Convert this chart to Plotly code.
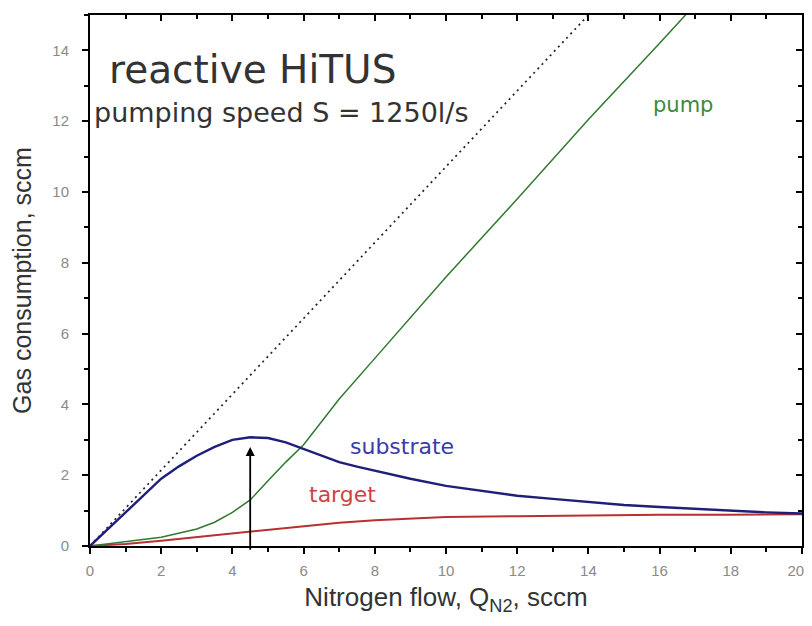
import plotly.graph_objects as go

# ---- data ----
x_sub = [0, 0.5, 1, 1.5, 2, 2.5, 3, 3.5, 4, 4.5, 5, 5.5, 6, 6.5, 7, 7.5, 8, 9, 10, 11, 12, 13, 14, 15, 16, 17, 18, 19, 20]
substrate = [0, 0.48, 0.95, 1.42, 1.9, 2.25, 2.55, 2.8, 3.0, 3.07, 3.05, 2.93, 2.74, 2.55, 2.37, 2.24, 2.12, 1.9, 1.7, 1.55, 1.42, 1.33, 1.24, 1.16, 1.1, 1.05, 0.98, 0.95, 0.92]

x_pump = [0, 1, 2, 3, 3.5, 4, 4.5, 5, 5.5, 6, 6.5, 7, 8, 9, 10, 12, 14, 16, 17]
pump = [0, 0.12, 0.25, 0.48, 0.67, 0.95, 1.3, 1.84, 2.37, 2.86, 3.5, 4.15, 5.3, 6.45, 7.6, 9.8, 12.05, 14.2, 15.3]

x_tgt = [0, 1, 2, 3, 4, 5, 6, 7, 8, 9, 10, 12, 14, 16, 18, 20]
target = [0, 0.06, 0.15, 0.25, 0.35, 0.47, 0.57, 0.66, 0.73, 0.78, 0.82, 0.84, 0.87, 0.88, 0.88, 0.9]

x_total = [0, 14]
total = [0, 15]

arrow_x = 4.5
arrow_y = [-0.15, 2.8]

x_ticks = [0, 2, 4, 6, 8, 10, 12, 14, 16, 18, 20]
x_ticktext = ["0", "2", "4", "6", "8", "10", "12", "14", "16", "18", "20\u00a0\u00a0\u00a0"]
y_ticks = [0, 2, 4, 6, 8, 10, 12, 14]

BLUE = "#1f1f7a"
GREEN = "#2f7a2f"
RED = "#b83030"
FONT = "Liberation Sans, Arial, sans-serif"
WIDE = "DejaVu Sans, Verdana, sans-serif"

fig = go.Figure()
fig.add_trace(go.Scatter(x=x_total, y=total, mode="lines",
                         line=dict(color="#222222", width=1.7, dash="2px,4px"), showlegend=False))
fig.add_trace(go.Scatter(x=x_tgt, y=target, mode="lines",
                         line=dict(color=RED, width=2), showlegend=False))
fig.add_trace(go.Scatter(x=x_pump, y=pump, mode="lines",
                         line=dict(color=GREEN, width=1.5), showlegend=False))
fig.add_trace(go.Scatter(x=x_sub, y=substrate, mode="lines",
                         line=dict(color=BLUE, width=2.4), showlegend=False))
# invisible traces that carry the mirrored top / right axes (ticks pointing inward)
fig.add_trace(go.Scatter(x=[0, 20], y=[0, 15], xaxis="x2", yaxis="y", mode="markers",
                         marker=dict(opacity=0), showlegend=False, hoverinfo="skip"))
fig.add_trace(go.Scatter(x=[0, 20], y=[0, 15], xaxis="x", yaxis="y2", mode="markers",
                         marker=dict(opacity=0), showlegend=False, hoverinfo="skip"))

fig.add_annotation(x=arrow_x, y=arrow_y[1], ax=arrow_x, ay=arrow_y[0],
                   xref="x", yref="y", axref="x", ayref="y",
                   showarrow=True, arrowhead=2, arrowsize=1, arrowwidth=1.8,
                   arrowcolor="black", text="")

texts = [
    dict(x=0.48, y=13.45, text="reactive HiTUS", size=39, color="#333333", xanchor="left"),
    dict(x=0.06, y=12.25, text="pumping speed S = 1250l/s", size=27, color="#333333", xanchor="left"),
    dict(x=16.65, y=12.45, text="pump", size=21, color="#3d8a3d", xanchor="center"),
    dict(x=8.75, y=2.8, text="substrate", size=22, color="#3a3aa8", xanchor="center"),
    dict(x=7.1, y=1.45, text="target", size=22, color="#cc4444", xanchor="center"),
]
for t in texts:
    fig.add_annotation(x=t["x"], y=t["y"], xref="x", yref="y", text=t["text"],
                       showarrow=False, xanchor=t["xanchor"], yanchor="middle",
                       font=dict(family=WIDE, size=t["size"], color=t["color"]))

axis_common = dict(showgrid=False, zeroline=False, showline=True, linecolor="black",
                   linewidth=2, ticklen=6, tickwidth=1.5, tickcolor="black", automargin=False)

fig.update_layout(
    width=796, height=610,
    margin=dict(l=82, r=2, t=7, b=72),
    paper_bgcolor="white", plot_bgcolor="white",
    font=dict(family=FONT),
    xaxis=dict(range=[0, 20], tickvals=x_ticks, ticktext=x_ticktext, ticks="outside",
               tickfont=dict(size=15, color="#8a8a8a"), ticklabelstandoff=4,
               ticklabeloverflow="allow",
               minor=dict(dtick=1, ticklen=4, tickwidth=1.5, tickcolor="black", ticks="outside"),
               title=dict(text="Nitrogen flow, Q<sub>N2</sub>, sccm",
                          font=dict(size=26, color="#333333"), standoff=10),
               **axis_common),
    yaxis=dict(range=[0, 15], tickvals=y_ticks, ticks="outside",
               tickfont=dict(size=15, color="#8a8a8a"), ticklabelstandoff=10,
               minor=dict(dtick=1, ticklen=4, tickwidth=1.5, tickcolor="black", ticks="outside"),
               title=dict(text="Gas consumption, sccm",
                          font=dict(size=25, color="#333333"), standoff=14),
               **axis_common),
    xaxis2=dict(range=[0, 20], overlaying="x", anchor="y", side="top", tickvals=x_ticks,
                ticks="inside", showticklabels=False,
                minor=dict(dtick=1, ticklen=4, tickwidth=1.5, tickcolor="black", ticks="inside"),
                **axis_common),
    yaxis2=dict(range=[0, 15], overlaying="y", anchor="x", side="right", tickvals=y_ticks,
                ticks="inside", showticklabels=False,
                minor=dict(dtick=1, ticklen=4, tickwidth=1.5, tickcolor="black", ticks="inside"),
                **axis_common),
)

fig.write_html("out.html")
